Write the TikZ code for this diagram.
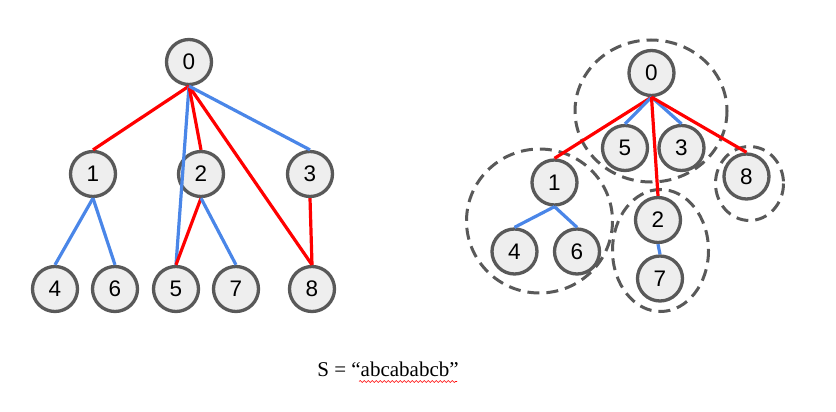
\documentclass[tikz,border=0pt]{standalone}
\usepackage{fontspec}
\setmainfont{Liberation Serif}
\newfontfamily\numfont{Liberation Sans}
\usetikzlibrary{decorations.pathmorphing}
\definecolor{rimgray}{HTML}{595959}
\definecolor{fillgray}{HTML}{EEEEEE}
\definecolor{lineblue}{HTML}{4A86E8}
\definecolor{linered}{HTML}{FF0000}
\begin{document}
\begin{tikzpicture}[x=1pt,y=-1pt,
        vert/.style={circle,draw=rimgray,fill=fillgray,line width=3.3pt,minimum size=45pt,inner sep=0pt,font=\numfont\fontsize{22.5}{26}\selectfont},
        redge/.style={linered,line width=3.2pt},
        bedge/.style={lineblue,line width=3.2pt},
        group/.style={draw=rimgray,line width=3pt,dash pattern=on 12pt off 7pt}]
        \useasboundingbox (0,0) rectangle (836,412);
        % left tree
        \node [vert] (l0) at (189,62) {0};
        \node [vert] (l1) at (93,174) {1};
        \node [vert] (l2) at (201,174) {2};
        \node [vert] (l3) at (310,174) {3};
        \node [vert] (l4) at (55,289) {4};
        \node [vert] (l6) at (115,289) {6};
        \node [vert] (l5) at (176,289) {5};
        \node [vert] (l7) at (236,289) {7};
        \node [vert] (l8) at (312,289) {8};
        \draw [redge] (l0.south) -- (l1.north);
        \draw [bedge] (l0.south) -- (l5.north);
        \draw [redge] (l0.south) -- (l2.north);
        \draw [redge] (l0.south) -- (l8.north);
        \draw [bedge] (l0.south) -- (l3.north);
        \draw [bedge] (l1.south) -- (l4.north);
        \draw [bedge] (l1.south) -- (l6.north);
        \draw [redge] (l2.south) -- (l5.north);
        \draw [bedge] (l2.south) -- (l7.north);
        \draw [redge] (l3.south) -- (l8.north);
        % right tree with its groups
        \draw [group] (651,111) ellipse [x radius=76,y radius=71];
        \draw [group] (539.5,221) ellipse [x radius=73,y radius=72];
        \draw [group] (660.5,250.5) ellipse [x radius=48,y radius=61];
        \draw [group] (749.5,183.5) ellipse [x radius=34,y radius=37];
        \node [vert] (r0) at (651.5,73) {0};
        \node [vert] (r5) at (625,148) {5};
        \node [vert] (r3) at (681.5,148) {3};
        \node [vert] (r1) at (554.5,182.5) {1};
        \node [vert] (r8) at (746.5,176.5) {8};
        \node [vert] (r2) at (658,220) {2};
        \node [vert] (r4) at (514.5,251.5) {4};
        \node [vert] (r6) at (577,251.5) {6};
        \node [vert] (r7) at (660,278.5) {7};
        \draw [redge] (r0.south) -- (r1.north);
        \draw [bedge] (r0.south) -- (r5.north);
        \draw [bedge] (r0.south) -- (r3.north);
        \draw [redge] (r0.south) -- (r2.north);
        \draw [redge] (r0.south) -- (r8.north);
        \draw [bedge] (r1.south) -- (r4.north);
        \draw [bedge] (r1.south) -- (r6.north);
        \draw [bedge] (r2.south) -- (r7.north);
        % the string
        \node [anchor=base,font=\fontsize{21}{25}\selectfont,inner sep=0pt] (str) at (388,376.5) {S = “abcababcb”};
        \draw [linered,line width=0.6pt,decorate,decoration={snake,segment length=4pt,amplitude=1pt}] (359,381.5) -- (457,381.5);
    \end{tikzpicture}
\end{document}
